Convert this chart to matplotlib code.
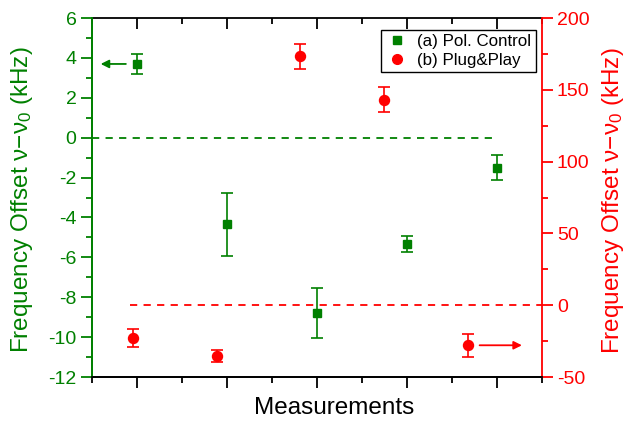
import matplotlib
matplotlib.use("Agg")
import matplotlib.pyplot as plt
from matplotlib.ticker import MultipleLocator, NullFormatter
from matplotlib.lines import Line2D

plt.rcParams['font.family'] = ['Liberation Sans', 'DejaVu Sans']
plt.rcParams['mathtext.fontset'] = 'custom'
plt.rcParams['mathtext.rm'] = 'Liberation Sans'
plt.rcParams['mathtext.it'] = 'Liberation Sans:italic'
plt.rcParams['axes.unicode_minus'] = False

# Data
pol_x = [1, 2, 3, 4, 5]
pol_y = [3.70, -4.35, -8.79, -5.33, -1.50]
pol_err = [0.48, 1.60, 1.24, 0.40, 0.61]

pp_x = [0.96, 1.89, 2.82, 3.75, 4.68]
pp_y = [-22.6, -35.4, 173.3, 143.1, -27.9]
pp_err = [6.3, 4.4, 8.5, 8.6, 7.9]

labels = ['(a) Pol. Control', '(b) Plug&Play']
ylabel_txt = 'Frequency Offset ν−ν$_0$ (kHz)'

green = '#008000'
red = '#ff0000'

fig = plt.figure(figsize=(6.28, 4.21), dpi=100)
ax = fig.add_axes([0.146, 0.1045, 0.7166, 0.8525])
ax2 = ax.twinx()

ax.set_xlim(0.5, 5.5)
ax.set_ylim(-12, 6)
ax2.set_ylim(-50, 200)

# reference lines
ax.plot([0.5, 5.0], [0, 0], ls=(0, (4, 3.5)), color=green, lw=1.3)
ax2.plot([0.93, 5.5], [0, 0], ls=(0, (4, 3.5)), color=red, lw=1.3)

ax.errorbar(pol_x, pol_y, yerr=pol_err, fmt='s', color=green, ms=6.2,
            capsize=4.3, elinewidth=1.2, capthick=1.2)
ax2.errorbar(pp_x, pp_y, yerr=pp_err, fmt='o', color=red, ms=7.2,
             capsize=4.3, elinewidth=1.2, capthick=1.2)

# arrows
ax.annotate('', xy=(0.60, 3.7), xytext=(0.88, 3.7),
            arrowprops=dict(arrowstyle='-|>', color=green, lw=1.3, mutation_scale=12,
                            shrinkA=0, shrinkB=0))
ax2.annotate('', xy=(5.28, -27.9), xytext=(4.81, -27.9),
             arrowprops=dict(arrowstyle='-|>', color=red, lw=1.3, mutation_scale=12,
                             shrinkA=0, shrinkB=0))

# x ticks (bottom outward, top inward)
ax.xaxis.set_major_locator(MultipleLocator(1))
ax.xaxis.set_minor_locator(MultipleLocator(0.5))
ax.xaxis.set_major_formatter(NullFormatter())
ax.tick_params(axis='x', which='major', direction='out', length=8, width=1.3)
ax.tick_params(axis='x', which='minor', direction='out', length=4, width=1.3)
sec = ax.secondary_xaxis('top')
sec.xaxis.set_major_locator(MultipleLocator(1))
sec.xaxis.set_minor_locator(MultipleLocator(0.5))
sec.xaxis.set_major_formatter(NullFormatter())
sec.tick_params(axis='x', which='major', direction='in', length=8, width=1.3)
sec.tick_params(axis='x', which='minor', direction='in', length=4, width=1.3)
sec.spines['top'].set_linewidth(1.3)

ax.yaxis.set_major_locator(MultipleLocator(2))
ax.yaxis.set_minor_locator(MultipleLocator(1))
ax.tick_params(axis='y', which='major', direction='out', length=8, width=1.3,
               colors=green, labelsize=14, pad=3)
ax.tick_params(axis='y', which='minor', direction='out', length=4, width=1.3, colors=green)

ax2.yaxis.set_major_locator(MultipleLocator(50))
ax2.yaxis.set_minor_locator(MultipleLocator(25))
ax2.tick_params(axis='y', which='major', direction='out', length=8, width=1.3,
                colors=red, labelsize=14, pad=3)
ax2.tick_params(axis='y', which='minor', direction='out', length=4, width=1.3, colors=red)

for a in (ax, ax2):
    for s in a.spines.values():
        s.set_linewidth(1.3)
ax.spines['left'].set_color(green)
ax2.spines['left'].set_color(green)
ax2.spines['right'].set_color(red)
ax.spines['right'].set_visible(False)
ax.spines['top'].set_visible(False)
ax2.spines['top'].set_visible(False)

fig.text(22 / 628, 1 - 200 / 421, ylabel_txt, color=green, fontsize=17.5,
         rotation=90, ha='center', va='center')
fig.text(613 / 628, 1 - 201 / 421, ylabel_txt, color=red, fontsize=17.5,
         rotation=90, ha='center', va='center')
fig.text(334 / 628, 1 - 408 / 421, 'Measurements', fontsize=17.5,
         ha='center', va='center')

handles = [Line2D([], [], ls='none', marker='s', color=green, ms=6),
           Line2D([], [], ls='none', marker='o', color=red, ms=7)]
leg = ax2.legend(handles=handles, labels=labels, loc='upper right', fontsize=12.2,
                 frameon=True, fancybox=False, edgecolor='black', handlelength=1.4,
                 handletextpad=0.5, borderpad=0.25, labelspacing=0.2,
                 borderaxespad=0, bbox_to_anchor=(535.7 / 628, 1 - 30 / 421),
                 bbox_transform=fig.transFigure)
leg.get_frame().set_linewidth(1.0)
leg.get_frame().set_alpha(1)

fig.savefig('out.png', dpi=100)
